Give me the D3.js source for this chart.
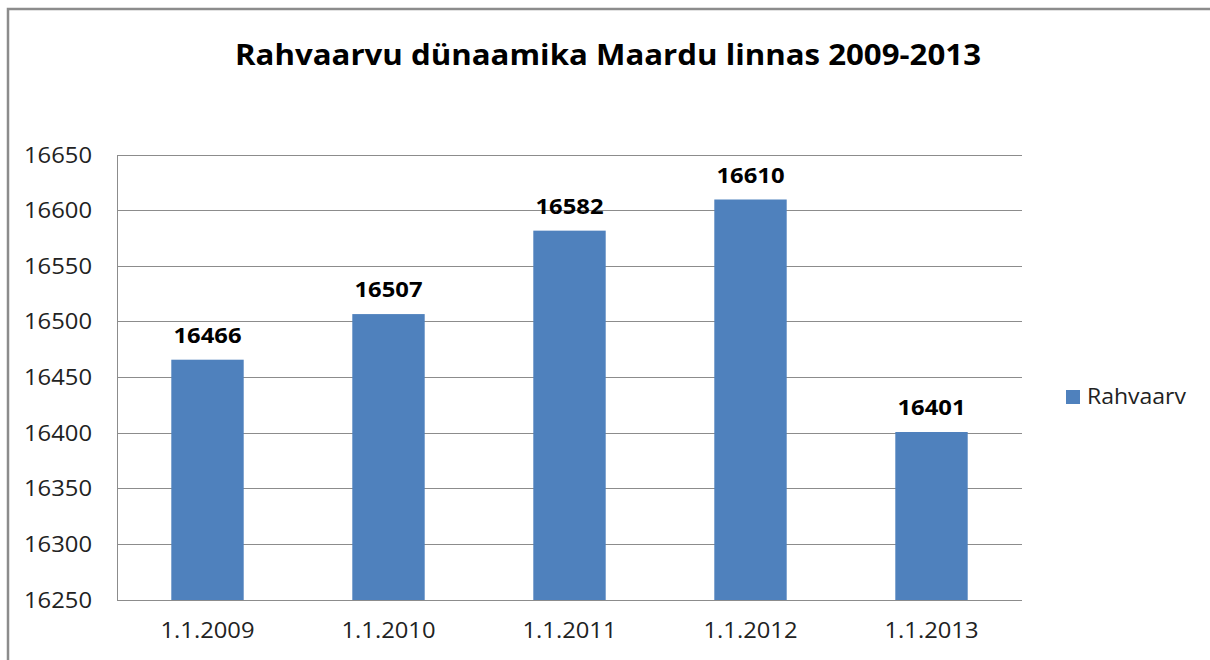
<!DOCTYPE html>
<html><head><meta charset="utf-8">
<script src="https://cdn.jsdelivr.net/npm/d3@7/dist/d3.min.js"></script>
<style>body{margin:0;background:#fff}svg{display:block}</style>
</head><body>
<script>
const categories = ["1.1.2009","1.1.2010","1.1.2011","1.1.2012","1.1.2013"];
const values = [16466,16507,16582,16610,16401];
const yTicks = [16250,16300,16350,16400,16450,16500,16550,16600,16650];
const seriesName = "Rahvaarv";
const title = "Rahvaarvu dünaamika Maardu linnas 2009-2013";

const W=1210,H=660;
const font = "'Open Sans', 'Liberation Sans', sans-serif";
const svg=d3.select("body").append("svg").attr("width",W).attr("height",H);
svg.append("rect").attr("x",8).attr("y",9).attr("width",1220).attr("height",700)
  .attr("fill","#fff").attr("stroke","#8c8c8c").attr("stroke-width",2.5);

const L=117,R=1022,T=155,B=600;
const x=d3.scaleBand().domain(categories).range([L,R]).paddingInner(0.6).paddingOuter(0.3);
const y=d3.scaleLinear().domain([16250,16650]).range([B,T]);

// grid
svg.append("g").selectAll("line").data(yTicks).join("line")
  .attr("x1",L).attr("x2",R).attr("y1",d=>y(d)).attr("y2",d=>y(d))
  .attr("stroke","#8c8c8c").attr("stroke-width",1).attr("shape-rendering","crispEdges");
svg.append("line").attr("x1",L).attr("x2",L).attr("y1",T).attr("y2",B)
  .attr("stroke","#8c8c8c").attr("shape-rendering","crispEdges");

// y axis labels
const yAxis=d3.axisLeft(y).tickValues(yTicks).tickSize(0).tickPadding(25).tickFormat(d3.format("d"));
const ga=svg.append("g").attr("transform",`translate(${L},0)`).call(yAxis);
ga.select(".domain").remove();
ga.selectAll("text").attr("font-family",font).attr("font-size",22).attr("fill","#222")
  .attr("textLength",68).attr("lengthAdjust","spacingAndGlyphs");

// x axis labels
const xAxis=d3.axisBottom(x).tickSize(0).tickPadding(22);
const gx=svg.append("g").attr("transform",`translate(0,${B})`).call(xAxis);
gx.select(".domain").remove();
gx.selectAll("text").attr("font-family",font).attr("font-size",22).attr("fill","#222")
  .attr("textLength",94).attr("lengthAdjust","spacingAndGlyphs");

// bars
svg.append("g").selectAll("rect").data(values).join("rect")
  .attr("x",(d,i)=>x(categories[i])).attr("width",x.bandwidth())
  .attr("y",d=>y(d)).attr("height",d=>B-y(d)).attr("fill","#4F81BD");

// labels
svg.append("g").selectAll("text").data(values).join("text")
  .attr("x",(d,i)=>x(categories[i])+x.bandwidth()/2).attr("y",d=>y(d)-17)
  .attr("text-anchor","middle").attr("font-family",font).attr("font-weight","bold")
  .attr("font-size",22).attr("fill","#000").attr("textLength",68).attr("lengthAdjust","spacingAndGlyphs").text(d=>d);

// title
svg.append("text").attr("x",608).attr("y",65).attr("text-anchor","middle")
  .attr("font-family",font).attr("font-weight","bold").attr("font-size",28)
  .attr("textLength",746).attr("lengthAdjust","spacingAndGlyphs").text(title);

// legend
svg.append("rect").attr("x",1066).attr("y",390).attr("width",14).attr("height",14).attr("fill","#4F81BD");
svg.append("text").attr("x",1087).attr("y",404).attr("font-family",font).attr("font-size",22)
  .attr("fill","#222").attr("textLength",99).attr("lengthAdjust","spacingAndGlyphs").text(seriesName);
</script>
</body></html>
